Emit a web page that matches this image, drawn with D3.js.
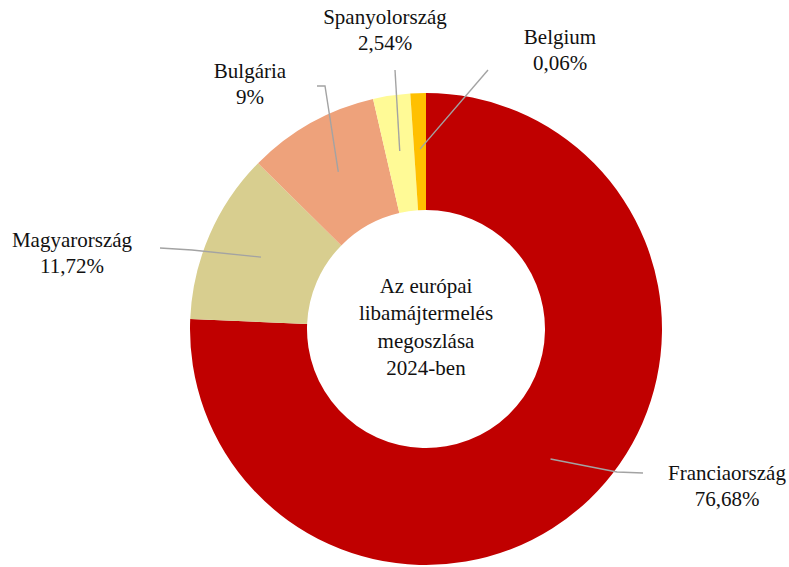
<!DOCTYPE html>
<html>
<head>
<meta charset="utf-8">
<script src="https://cdn.jsdelivr.net/npm/d3@7"></script>
<style>
  html, body { margin: 0; padding: 0; background: #fff; }
  svg { display: block; }
  text { font-family: "Liberation Serif", "Times New Roman", serif; fill: #111; }
</style>
</head>
<body>
<svg id="chart" width="789" height="567"></svg>
<script>
// Data
const countries = ["Franciaország", "Magyarország", "Bulgária", "Spanyolország", "Belgium"];
const values = [75.68, 11.72, 9, 2.54, 1.06];        // slice sizes as drawn
const valueLabels = ["76,68%", "11,72%", "9%", "2,54%", "0,06%"]; // printed labels
const colors = ["#C00000", "#D8CE8F", "#EEA27B", "#FFFA96", "#FFC000"];
const centerTitle = ["Az európai", "libamájtermelés", "megoszlása", "2024-ben"];

// Layout (annotation placement)
const labelPos = [
  { x: 727, y: 480, path: [[617, 472], [643, 473]] },
  { x: 72, y: 247, path: [[192, 250], [160, 248]] },
  { x: 250, y: 78, path: [[325, 86], [317, 86]] },
  { x: 385, y: 24, path: [[395, 70]] },
  { x: 560, y: 44, path: [[488, 70]] }
];

const svg = d3.select("#chart");
const cx = 426, cy = 329, rOuter = 236, rInner = 119;
const g = svg.append("g").attr("transform", `translate(${cx},${cy})`);

const data = countries.map((c, i) => ({ country: c, value: values[i], label: valueLabels[i], color: colors[i], pos: labelPos[i] }));
const pie = d3.pie().sort(null).value(d => d.value).startAngle(0).endAngle(2 * Math.PI);
const arcs = pie(data);
const arc = d3.arc().innerRadius(rInner).outerRadius(rOuter);
const midArc = d3.arc().innerRadius(180).outerRadius(180);

g.selectAll("path.slice").data(arcs).join("path")
  .attr("class", "slice")
  .attr("d", arc)
  .attr("fill", d => d.data.color);

// Leader lines
const line = d3.line();
svg.selectAll("path.leader").data(arcs).join("path")
  .attr("class", "leader")
  .attr("fill", "none")
  .attr("stroke", "#a3a3a3")
  .attr("stroke-width", 1.4)
  .attr("d", d => {
    const c = midArc.centroid(d);
    const pts = [[c[0] + cx, c[1] + cy]].concat(d.data.pos.path);
    return line(pts);
  });

// Labels
const lbl = svg.selectAll("g.label").data(arcs).join("g").attr("class", "label");
lbl.append("text")
  .attr("x", d => d.data.pos.x).attr("y", d => d.data.pos.y)
  .attr("text-anchor", "middle").attr("font-size", 21)
  .text(d => d.data.country);
lbl.append("text")
  .attr("x", d => d.data.pos.x).attr("y", d => d.data.pos.y + 26)
  .attr("text-anchor", "middle").attr("font-size", 21)
  .text(d => d.data.label);

// Center title
svg.append("g").selectAll("text").data(centerTitle).join("text")
  .attr("x", cx).attr("y", (d, i) => 293 + i * 27.3)
  .attr("text-anchor", "middle").attr("font-size", 21)
  .text(d => d);
</script>
</body>
</html>
